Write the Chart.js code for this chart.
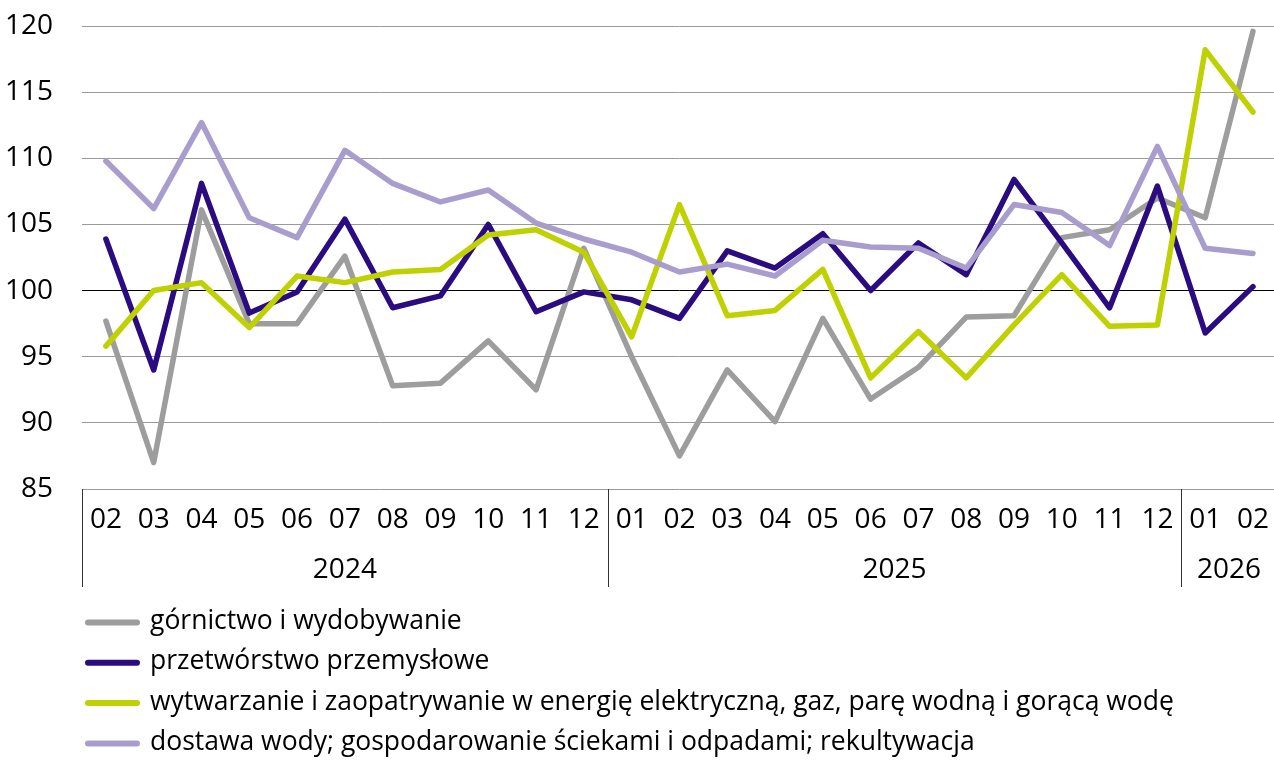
<!DOCTYPE html>
<html>
<head>
<meta charset="utf-8">
<script src="https://cdn.jsdelivr.net/npm/chart.js@4/dist/chart.umd.min.js"></script>
<style>
  html, body { margin: 0; padding: 0; background: #fff; overflow: hidden; }
  #wrap { width: 1283px; height: 760px; }
</style>
</head>
<body>
<div id="wrap"><canvas id="c" width="1283" height="760"></canvas></div>
<script>
const months = ['02','03','04','05','06','07','08','09','10','11','12',
                '01','02','03','04','05','06','07','08','09','10','11','12',
                '01','02'];
const yearLabels = ['2024', '2025', '2026'];
const yearSpans = [11, 12, 2];
const yTicks = [85, 90, 95, 100, 105, 110, 115, 120];

const seriesNames = [
  'górnictwo i wydobywanie',
  'przetwórstwo przemysłowe',
  'wytwarzanie i zaopatrywanie w energię elektryczną, gaz, parę wodną i gorącą wodę',
  'dostawa wody; gospodarowanie ściekami i odpadami; rekultywacja'
];
const gornictwo = [97.7, 87.0, 106.1, 97.5, 97.5, 102.6, 92.8, 93.0, 96.2, 92.5, 103.2,
                   95.0, 87.5, 94.0, 90.1, 97.9, 91.8, 94.2, 98.0, 98.1, 104.0, 104.6, 107.0,
                   105.5, 119.6];
const przetworstwo = [103.9, 94.0, 108.1, 98.3, 99.9, 105.4, 98.7, 99.6, 105.0, 98.4, 99.9,
                      99.3, 97.9, 103.0, 101.7, 104.3, 100.0, 103.6, 101.2, 108.4, 103.6, 98.7, 107.9,
                      96.8, 100.3];
const wytwarzanie = [95.8, 100.0, 100.6, 97.2, 101.1, 100.6, 101.4, 101.6, 104.2, 104.6, 102.9,
                     96.5, 106.5, 98.1, 98.5, 101.6, 93.4, 96.9, 93.4, 97.4, 101.2, 97.3, 97.4,
                     118.2, 113.5];
const dostawa = [109.8, 106.2, 112.7, 105.5, 104.0, 110.6, 108.1, 106.7, 107.6, 105.1, 103.9,
                 102.9, 101.4, 102.0, 101.1, 103.8, 103.3, 103.2, 101.7, 106.5, 105.9, 103.4, 110.9,
                 103.2, 102.8];

const colors = ['#9d9d9d', '#2a0b80', '#bfd100', '#a99dcd'];
const FONT = "'Open Sans', 'Noto Sans', sans-serif";

const extras = {
  id: 'extras',
  afterDraw(chart) {
    const ctx = chart.ctx;
    const xs = chart.scales.x;
    const area = chart.chartArea;
    const half = (xs.getPixelForValue(1) - xs.getPixelForValue(0)) / 2;
    ctx.save();
    ctx.strokeStyle = '#333';
    ctx.lineWidth = 1;
    ctx.fillStyle = '#000';
    ctx.font = "28px " + FONT;
    ctx.textAlign = 'center';
    ctx.textBaseline = 'middle';
    let start = 0;
    for (let g = 0; g < yearSpans.length; g++) {
      const end = start + yearSpans[g] - 1;
      const left = xs.getPixelForValue(start) - half;
      const right = xs.getPixelForValue(end) + half;
      ctx.beginPath();
      ctx.moveTo(Math.round(left) + 0.5, area.bottom);
      ctx.lineTo(Math.round(left) + 0.5, 587);
      ctx.stroke();
      ctx.fillText(yearLabels[g], (left + right) / 2, 570);
      start = end + 1;
    }
    ctx.textAlign = 'left';
    ctx.font = "26.5px " + FONT;
    chart.data.datasets.forEach((ds, i) => {
      const y = 622.5 + i * 40.3;
      ctx.strokeStyle = ds.borderColor;
      ctx.lineWidth = 6;
      ctx.lineCap = 'round';
      ctx.beginPath();
      ctx.moveTo(88, y);
      ctx.lineTo(137, y);
      ctx.stroke();
      ctx.fillStyle = '#000';
      ctx.fillText(ds.label, 150, y - 1);
    });
    ctx.restore();
  }
};

const series = [gornictwo, przetworstwo, wytwarzanie, dostawa];
new Chart(document.getElementById('c'), {
  type: 'line',
  data: {
    labels: months,
    datasets: series.map((d, i) => ({
      label: seriesNames[i],
      data: d,
      borderColor: colors[i],
      backgroundColor: colors[i],
      borderWidth: 5.5,
      pointRadius: 0,
      tension: 0,
      borderJoinStyle: 'round',
      borderCapStyle: 'round',
      order: 4 - i
    }))
  },
  options: {
    responsive: false,
    animation: false,
    devicePixelRatio: 1,
    layout: { padding: { top: 26, right: 0, bottom: 0, left: 0 } },
    plugins: { legend: { display: false }, tooltip: { enabled: false } },
    scales: {
      x: {
        type: 'category',
        offset: true,
        grid: { display: false, drawTicks: false },
        border: { display: false },
        ticks: {
          color: '#000',
          font: { family: FONT, size: 28 },
          padding: 14,
          maxRotation: 0,
          autoSkip: false
        },
        afterFit(scale) { scale.height = 760 - 489; }
      },
      y: {
        min: 85,
        max: 120,
        afterBuildTicks(scale) { scale.ticks = yTicks.map(v => ({ value: v })); },
        grid: {
          drawTicks: true,
          tickLength: 29,
          tickColor: 'rgba(0,0,0,0)',
          color: c => (c.tick && c.tick.value === 100) ? '#000' : '#9a9a9a',
          lineWidth: 1
        },
        border: { display: false },
        ticks: {
          color: '#000',
          font: { family: FONT, size: 28 },
          padding: 0
        },
        afterFit(scale) { scale.width = 82; }
      }
    }
  },
  plugins: [extras]
});
</script>
</body>
</html>
